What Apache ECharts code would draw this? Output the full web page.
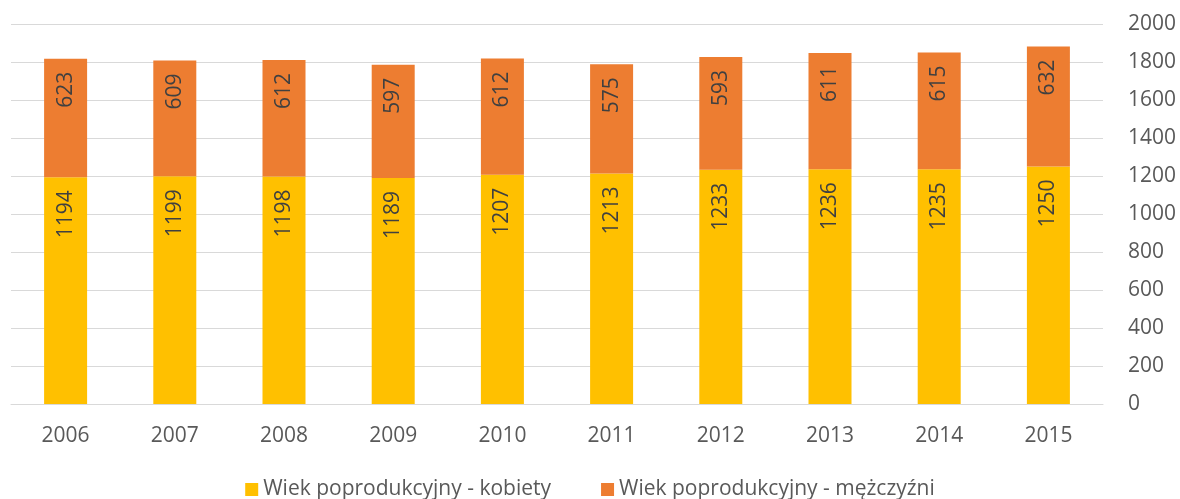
<!DOCTYPE html>
<html>
<head>
<meta charset="utf-8">
<script src="https://cdn.jsdelivr.net/npm/echarts@6/dist/echarts.min.js"></script>
<style>
  html, body { margin: 0; padding: 0; background: #fff; }
  #main { width: 1180px; height: 499px; }
</style>
</head>
<body>
<div id="main"></div>
<script>
// dane
const years = ['2006', '2007', '2008', '2009', '2010', '2011', '2012', '2013', '2014', '2015']
const kobiety = [1194, 1199, 1198, 1189, 1207, 1213, 1233, 1236, 1235, 1250]
const mezczyzni = [623, 609, 612, 597, 612, 575, 593, 611, 615, 632]
const yTicks = [0, 200, 400, 600, 800, 1000, 1200, 1400, 1600, 1800, 2000]

const font = '"Open Sans", sans-serif'

// etykiety obrócone, czytane od dołu do góry, przy górnej krawędzi segmentu
const barLabel = {
  show: true,
  position: 'insideTop',
  distance: 13,
  rotate: 90,
  align: 'right',
  verticalAlign: 'middle',
  color: '#404040',
  fontSize: 21,
  fontFamily: font
}

const myChart = echarts.init(document.getElementById('main'))
const option = {
  animation: false,
  grid: { left: 11, right: 77, top: 24, bottom: 95, containLabel: false },
  legend: {
    bottom: -6,
    left: 'center',
    itemWidth: 13,
    itemHeight: 13,
    itemGap: 50,
    icon: 'rect',
    textStyle: { fontSize: 21, color: '#595959', fontFamily: font },
    data: ['Wiek poprodukcyjny - kobiety', 'Wiek poprodukcyjny - mężczyźni']
  },
  xAxis: {
    type: 'category',
    data: years,
    axisLine: { lineStyle: { color: '#d9d9d9', width: 1 } },
    axisTick: { show: false },
    axisLabel: { fontSize: 21, color: '#595959', margin: 22, fontFamily: font }
  },
  yAxis: {
    type: 'value',
    position: 'right',
    min: yTicks[0],
    max: yTicks[yTicks.length - 1],
    interval: 200,
    axisLine: { show: false },
    axisTick: { show: false },
    splitLine: { lineStyle: { color: '#d9d9d9', width: 1 } },
    axisLabel: {
      fontSize: 21, color: '#595959', margin: 25, fontFamily: font,
      formatter: v => String(v)
    }
  },
  series: [
    {
      name: 'Wiek poprodukcyjny - kobiety',
      type: 'bar',
      stack: 'total',
      data: kobiety,
      barWidth: 43,
      itemStyle: { color: '#FFC000' },
      label: barLabel
    },
    {
      name: 'Wiek poprodukcyjny - mężczyźni',
      type: 'bar',
      stack: 'total',
      data: mezczyzni,
      barWidth: 43,
      itemStyle: { color: '#ED7D31' },
      label: barLabel
    }
  ]
}
option && myChart.setOption(option)
</script>
</body>
</html>
